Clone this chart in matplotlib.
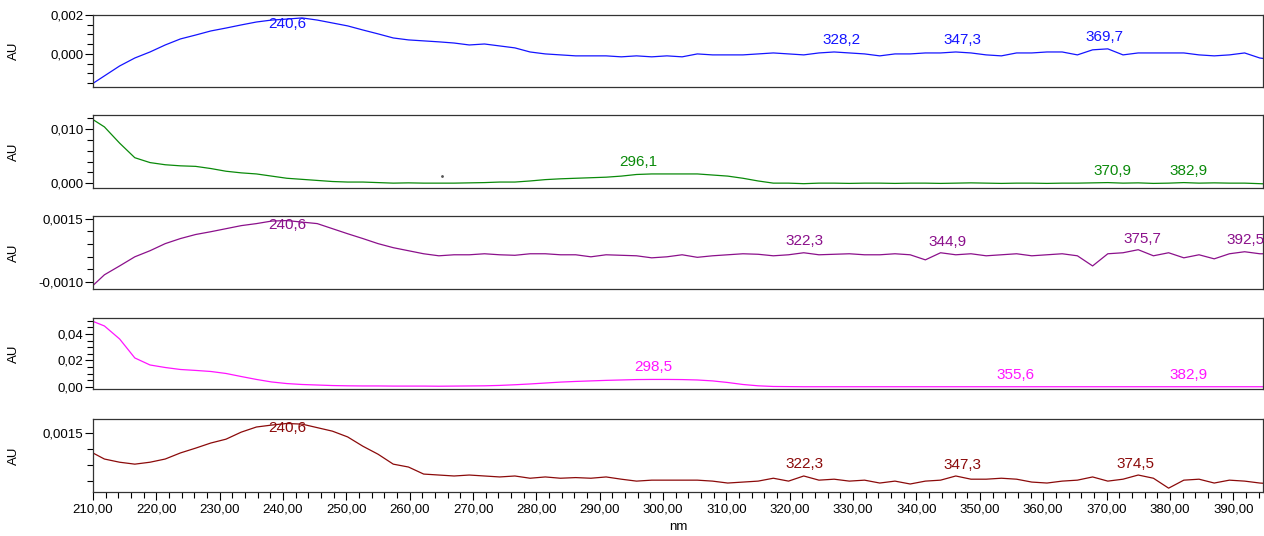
import numpy as np
import matplotlib
matplotlib.use('Agg')
import matplotlib.pyplot as plt
from matplotlib.ticker import FixedLocator, MultipleLocator, FuncFormatter

plt.rcParams['font.family'] = ['Liberation Sans', 'DejaVu Sans']

# %% data: wavelength grid (nm), one absorbance trace (AU) per panel
nm = np.round(209.4 + 2.4 * np.arange(79), 1)

au_blue = [-0.00164, -0.00113, -0.00062, -0.00021, 0.00010, 0.00046, 0.00077, 0.00097,
           0.00118, 0.00133, 0.00149, 0.00164, 0.00174, 0.00179, 0.00185, 0.00174,
           0.00159, 0.00144, 0.00123, 0.00103, 0.00082, 0.00072, 0.00067, 0.00062,
           0.00056, 0.00046, 0.00051, 0.00041, 0.00031, 0.00010, 0.0, -0.00005,
           -0.00010, -0.00010, -0.00010, -0.00015, -0.00010, -0.00015, -0.00010, -0.00015,
           0.0, -0.00005, -0.00005, -0.00005, 0.0, 0.00005, 0.0, -0.00005,
           0.00005, 0.00010, 0.00005, 0.0, -0.00010, 0.0, 0.0, 0.00005,
           0.00005, 0.00010, 0.00005, -0.00005, -0.00010, 0.00005, 0.00005, 0.00010,
           0.00010, -0.00005, 0.00021, 0.00026, -0.00005, 0.00005, 0.00005, 0.00005,
           0.00005, -0.00005, -0.00010, -0.00005, 0.00005, -0.00021, -0.00031]

au_green = [0.0122, 0.0104, 0.0074, 0.0047, 0.0038, 0.0034, 0.0032, 0.0031,
            0.0027, 0.0022, 0.0019, 0.0017, 0.0013, 0.0009, 0.0007, 0.0005,
            0.0003, 0.0002, 0.0002, 0.0001, 0.0, 0.00005, 0.0, 0.0,
            0.0, 0.00005, 0.0001, 0.0002, 0.0002, 0.0004, 0.00065, 0.0008,
            0.0009, 0.0010, 0.0011, 0.0013, 0.0016, 0.0017, 0.0017, 0.0017,
            0.0017, 0.0015, 0.0013, 0.0009, 0.0004, 0.0, 0.0, -0.0001,
            0.0, 0.0, -0.00005, 0.0, 0.0, -0.00005, 0.0, 0.0,
            -0.00005, 0.0, 0.00005, 0.0, -0.00005, 0.0, 0.0, -0.00005,
            0.0, 0.0, 0.00005, 0.0001, 0.0, 0.00005, -0.00005, 0.0,
            0.0001, 0.0, 0.00005, 0.0, 0.0, -0.0001, -0.0002]

au_purple = [-0.00128, -0.00072, -0.00037, -0.00001, 0.00023, 0.00051, 0.00071, 0.00087,
             0.00098, 0.00110, 0.00122, 0.00130, 0.00140, 0.00142, 0.00136, 0.00130,
             0.00110, 0.00090, 0.00071, 0.00051, 0.00035, 0.00023, 0.00011, 0.00003,
             0.00007, 0.00007, 0.00011, 0.00007, 0.00005, 0.00011, 0.00011, 0.00007,
             0.00007, -0.00001, 0.00007, 0.00005, 0.00003, -0.00005, -0.00001, 0.00007,
             -0.00003, 0.00003, 0.00007, 0.00011, 0.00009, 0.00003, 0.00007, 0.00015,
             0.00007, 0.00009, 0.00011, 0.00007, 0.00007, 0.00011, 0.00007, -0.00013,
             0.00015, 0.00007, 0.00011, 0.00003, 0.00007, 0.00011, 0.00003, 0.00007,
             0.00011, 0.00003, -0.00037, 0.00011, 0.00015, 0.00027, 0.00003, 0.00015,
             -0.00005, 0.00007, -0.00009, 0.00011, 0.00019, 0.00011, 0.00011]

au_magenta = [0.0506, 0.0460, 0.0362, 0.0219, 0.0166, 0.0147, 0.0132, 0.0125,
              0.0117, 0.0102, 0.0079, 0.0057, 0.0038, 0.0026, 0.0019, 0.0015,
              0.0011, 0.0009, 0.0008, 0.0008, 0.0007, 0.0007, 0.0007, 0.0006,
              0.0007, 0.0008, 0.0009, 0.0012, 0.0017, 0.0023, 0.0030, 0.0037,
              0.0042, 0.0046, 0.0050, 0.0053, 0.0056, 0.0057, 0.0057, 0.0056,
              0.0053, 0.0046, 0.0034, 0.0019, 0.0009, 0.0004, 0.0003, 0.0002,
              0.0002, 0.0002, 0.0002, 0.0002, 0.0002, 0.0002, 0.0002, 0.0002,
              0.0002, 0.0002, 0.0002, 0.0002, 0.0002, 0.0002, 0.0002, 0.0002,
              0.0002, 0.0002, 0.0002, 0.0002, 0.0002, 0.0002, 0.0002, 0.0002,
              0.0002, 0.0002, 0.0002, 0.0002, 0.0002, 0.0002, 0.0002]

au_darkred = [0.00094, 0.00069, 0.00059, 0.00053, 0.00059, 0.00069, 0.00088, 0.00103,
              0.00119, 0.00131, 0.00153, 0.00169, 0.00175, 0.00180, 0.00178, 0.00167,
              0.00156, 0.00138, 0.00109, 0.00084, 0.00053, 0.00044, 0.00022, 0.00019,
              0.00016, 0.00019, 0.00016, 0.00013, 0.00016, 0.00009, 0.00013, 0.00009,
              0.00011, 0.00009, 0.00013, 0.00006, 0.0, 0.00003, 0.00003, 0.00003,
              0.00003, 0.0, -0.00006, -0.00003, 0.0, 0.00009, 0.0, 0.00016,
              0.00003, 0.00006, 0.0, 0.00003, -0.00006, 0.0, -0.00009, 0.0,
              0.00003, 0.00016, 0.00006, 0.00006, 0.00009, 0.00006, -0.00003, -0.00006,
              0.0, 0.00003, 0.00013, 0.0, 0.00006, 0.00019, 0.00009, -0.00022,
              0.00003, 0.00006, -0.00006, 0.00003, 0.0, -0.00006, -0.00009]

# peak labels per panel
peaks_blue = [240.6, 328.2, 347.3, 369.7]
peaks_green = [296.1, 370.9, 382.9]
peaks_purple = [240.6, 322.3, 344.9, 375.7, 392.5]
peaks_magenta = [298.5, 355.6, 382.9]
peaks_darkred = [240.6, 322.3, 347.3, 374.5]

# stray dot in the second trace
stray_nm = [265.1]
stray_au = [0.0013]

# y tick labels per panel
yticks_blue = [0.0, 0.002]
ylabels_blue = ['0,000', '0,002']
yticks_green = [0.0, 0.010]
ylabels_green = ['0,000', '0,010']
yticks_purple = [-0.0010, 0.0015]
ylabels_purple = ['-0,0010', '0,0015']
yticks_magenta = [0.0, 0.02, 0.04]
ylabels_magenta = ['0,00', '0,02', '0,04']
yticks_darkred = [0.0015]
ylabels_darkred = ['0,0015']

# %% layout
fig = plt.figure(figsize=(12.64, 5.36), dpi=100)
W, H = 1264, 536
left, right = 93, 1263
x_lo, x_hi = 210, 394.7

panels = [
    # top px, bottom px, data, colour, ylim, ticks, labels, minor step, peaks
    (15, 87, au_blue, '#1414ff', (-0.0017, 0.002), yticks_blue, ylabels_blue, 0.0005, peaks_blue),
    (115, 188, au_green, '#0a8a0a', (-0.0009, 0.0126), yticks_green, ylabels_green, 0.002, peaks_green),
    (216, 289, au_purple, '#8b108b', (-0.00128, 0.0016), yticks_purple, ylabels_purple, 0.0005, peaks_purple),
    (318, 389, au_magenta, '#ff14ff', (-0.0015, 0.052), yticks_magenta, ylabels_magenta, 0.005, peaks_magenta),
    (419, 492, au_darkred, '#8b0a0a', (-0.00034, 0.00194), yticks_darkred, ylabels_darkred, 0.0005, peaks_darkred),
]

axes = []
for k, (top, bot, au, col, ylim, yt, yl, mstep, peaks) in enumerate(panels):
    ax = fig.add_axes([left / W, 1 - bot / H, (right - left) / W, (bot - top) / H])
    ax.plot(nm, au, color=col, lw=0.9)
    ax.set_xlim(x_lo, x_hi)
    ax.set_ylim(*ylim)
    ax.yaxis.set_major_locator(FixedLocator(yt))
    ax.set_yticklabels(yl)
    ax.yaxis.set_minor_locator(MultipleLocator(mstep))
    ax.tick_params(axis='y', which='major', length=6, width=0.8, labelsize=9.5, pad=1)
    ax.tick_params(axis='y', which='minor', length=4, width=0.8)
    ax.set_ylabel('AU', fontsize=9.5)
    ax.yaxis.set_label_coords(-0.062, 0.5)
    for s in ax.spines.values():
        s.set_linewidth(0.9)
        s.set_color('#333333')

    # peak labels, kept inside the plot area
    for p in peaks:
        yv = np.interp(p, nm, au)
        fy = ax.transAxes.inverted().transform(ax.transData.transform((p, yv)))[1]
        fy = min(fy + 0.07, 0.78)
        txt = f'{p:.1f}'.replace('.', ',')
        if p > x_hi - 4:
            # too close to the right edge: end the text at the frame
            ax.text(x_hi + 0.2, fy, txt, color=col, fontsize=11, ha='right', va='bottom',
                    transform=ax.get_xaxis_transform(), clip_on=False)
        else:
            ax.text(p, fy, txt, color=col, fontsize=11, ha='center', va='bottom',
                    transform=ax.get_xaxis_transform(), clip_on=False)

    if k < 4:
        ax.set_xticks([])
    axes.append(ax)

axes[1].plot(stray_nm, stray_au, marker='.', markersize=2, color='#555555', lw=0)

# x axis only on the bottom panel
axb = axes[-1]
axb.xaxis.set_major_locator(MultipleLocator(10))
axb.xaxis.set_minor_locator(MultipleLocator(2))
axb.xaxis.set_major_formatter(FuncFormatter(lambda v, pos: f'{v:.2f}'.replace('.', ',')))
axb.tick_params(axis='x', which='major', length=6, width=0.8, labelsize=9.5, pad=2)
axb.tick_params(axis='x', which='minor', length=4, width=0.8)
axb.set_xlabel('nm', fontsize=9.5, labelpad=4)

fig.savefig('out.png', dpi=100)
